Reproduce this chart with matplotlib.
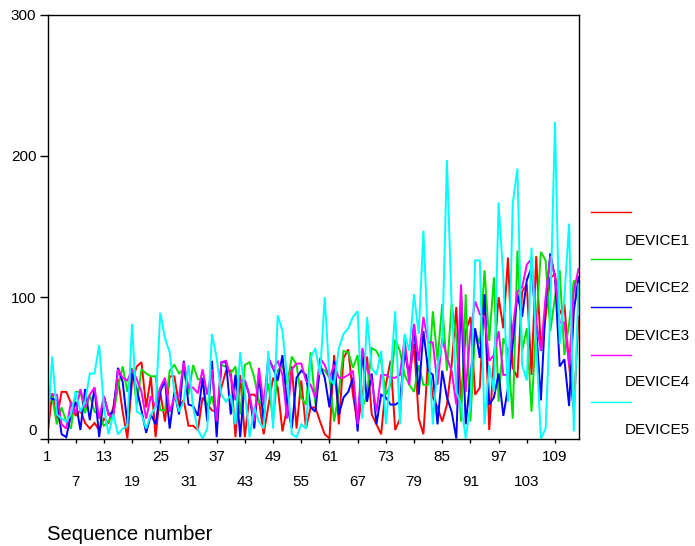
import matplotlib
matplotlib.use("Agg")
import matplotlib.pyplot as plt
from matplotlib.lines import Line2D
from matplotlib.transforms import ScaledTranslation
import numpy as np

plt.rcParams['font.family'] = ['Liberation Sans', 'DejaVu Sans']

seq = list(range(1, 115))

device1 = [3, 32, 14, 33, 33, 25, 16, 20, 11, 7, 11, 6, 14, 11, 22, 42, 19, 0, 41, 51,
           54, 22, 44, 1, 33, 12, 44, 44, 23, 27, 9, 9, 6, 29, 24, 20, 19, 36, 48,
           48, 1, 45, 1, 31, 31, 27, 3, 23, 43, 36, 5, 22, 51, 7, 41, 7,
           22, 22, 12, 3, 0, 59, 10, 57, 63, 31, 10, 29, 58, 17, 10, 3, 38, 55, 6, 14, 67, 43,
           67, 14, 3, 57, 29, 22, 12, 24, 52, 93, 24, 76, 86, 31, 36, 102,
           6, 57, 100, 78, 128, 50, 43, 104, 109, 45, 129, 62, 86, 114, 116, 88, 95, 52, 19, 86]

device2 = [29, 29, 10, 22, 12, 7, 33, 33, 18, 31, 19, 17, 9, 12, 17, 36, 51, 33, 50, 24,
           49, 46, 44, 44, 20, 20, 48, 52, 46, 49, 31, 52, 42, 42, 19, 30, 14, 52, 51,
           46, 51, 17, 52, 54, 43, 26, 24, 39, 12, 48, 52, 38, 58, 52, 29, 24,
           61, 24, 50, 48, 43, 12, 33, 62, 61, 50, 59, 22, 31, 64, 62, 55, 31, 38, 70, 62, 45, 38,
           33, 52, 38, 38, 90, 55, 95, 48, 95, 71, 12, 102, 12, 76, 67, 119,
           69, 114, 26, 71, 62, 14, 133, 62, 78, 19, 81, 132, 126, 76, 100, 119, 59, 81, 112, 95]

device3 = [30, 28, 27, 3, 1, 17, 26, 6, 35, 13, 36, 1, 30, 17, 19, 50, 40, 10, 46, 35,
           20, 4, 17, 10, 33, 41, 7, 33, 17, 55, 24, 23, 16, 43, 12, 55, 1, 54, 54,
           17, 45, 1, 41, 30, 7, 45, 12, 57, 50, 41, 59, 24, 7, 43, 48, 45,
           22, 19, 52, 43, 22, 55, 17, 29, 33, 43, 5, 62, 26, 46, 10, 31, 29, 24, 24, 26, 62, 43,
           81, 31, 76, 48, 45, 10, 48, 29, 19, 0, 100, 10, 43, 78, 57, 102,
           24, 29, 46, 16, 36, 67, 102, 86, 112, 121, 78, 27, 95, 131, 114, 51, 56, 23, 90, 114]

device4 = [31, 31, 31, 10, 7, 26, 18, 35, 22, 31, 36, 14, 30, 17, 14, 49, 43, 41, 49, 42,
           33, 14, 30, 22, 36, 43, 19, 29, 30, 54, 36, 36, 32, 49, 31, 49, 12, 54, 55,
           43, 27, 41, 41, 31, 12, 50, 24, 57, 49, 55, 45, 14, 49, 53, 53, 41,
           38, 29, 57, 52, 43, 52, 43, 43, 45, 48, 10, 64, 50, 41, 19, 45, 45, 43, 43, 45, 71, 38,
           81, 55, 86, 68, 68, 38, 71, 57, 48, 24, 109, 33, 76, 97, 88, 86,
           55, 59, 76, 45, 45, 78, 104, 107, 123, 127, 83, 62, 100, 129, 114, 82, 82, 52, 104, 120]

device5 = [5, 58, 17, 14, 12, 17, 33, 19, 26, 46, 46, 66, 22, 3, 17, 3, 7, 9, 81, 19,
           17, 7, 17, 22, 89, 71, 61, 33, 19, 26, 52, 22, 6, 0, 7, 74, 57, 31, 26,
           31, 10, 61, 33, 1, 22, 12, 7, 62, 7, 87, 76, 43, 3, 1, 10, 7,
           57, 64, 45, 100, 43, 38, 64, 74, 78, 86, 90, 14, 86, 50, 45, 62, 10, 45, 90, 10, 74, 62,
           102, 74, 147, 67, 10, 52, 67, 197, 95, 33, 24, 0, 24, 126, 126, 10,
           52, 33, 167, 114, 26, 166, 191, 52, 41, 135, 67, 0, 7, 90, 224, 67, 100, 152, 5, 109]

series_names = ["DEVICE1", "DEVICE2", "DEVICE3", "DEVICE4", "DEVICE5"]
series_colors = ["#ff0000", "#00e000", "#0000ff", "#ff00ff", "#00ffff"]

major_ticks = list(range(1, 110, 12))
minor_ticks = list(range(7, 110, 12))
y_ticks = [0, 100, 200, 300]

W, H = 695, 546
fig = plt.figure(figsize=(W / 100, H / 100), dpi=100)
L, R, T, B = 47.5, 578.5, 14.5, 438.5
ax = fig.add_axes([L / W, 1 - B / H, (R - L) / W, (B - T) / H])

for vals, col in zip([device1, device2, device3, device4, device5], series_colors):
    ax.plot(seq, vals, color=col, lw=1.4, solid_joinstyle='miter')

ax.set_xlim(1, 114)
ax.set_ylim(0, 300)
ax.set_yticks(y_ticks)
ax.set_yticklabels([str(v) for v in y_ticks])
ax.set_xticks(major_ticks)
ax.set_xticklabels([str(v) for v in major_ticks])
ax.set_xticks(minor_ticks, minor=True)
ax.set_xticklabels([str(v) for v in minor_ticks], minor=True)

ax.tick_params(axis='y', direction='out', length=6, width=1, pad=2, labelsize=11, colors='black')
ax.tick_params(axis='x', which='major', direction='out', length=3, width=1, pad=5, labelsize=11)
ax.tick_params(axis='x', which='minor', direction='out', length=3, width=1, pad=23.5, labelsize=11)
for s in ax.spines.values():
    s.set_linewidth(1.0)
    s.set_color('black')

# shift the "0" label up like the reference
lab0 = ax.get_yticklabels()[0]
lab0.set_transform(lab0.get_transform() + ScaledTranslation(0, 9 / 100, fig.dpi_scale_trans))

fig.text(47 / W, 1 - 535 / H, "Sequence number", ha='left', va='center', fontsize=14.6)

# legend (reference style: line above each label)
line_y = [211.7, 259.3, 307.0, 354.7, 401.5]
text_y = [240.7, 288.3, 335.7, 382.5, 429.5]
for ly, ty, col, name in zip(line_y, text_y, series_colors, series_names):
    fig.add_artist(Line2D([591 / W, 631 / W], [1 - ly / H, 1 - ly / H], color=col, lw=1.0,
                          transform=fig.transFigure))
    fig.text(625 / W, 1 - ty / H, name, ha='left', va='center', fontsize=11)

fig.savefig("out.png", dpi=100)
